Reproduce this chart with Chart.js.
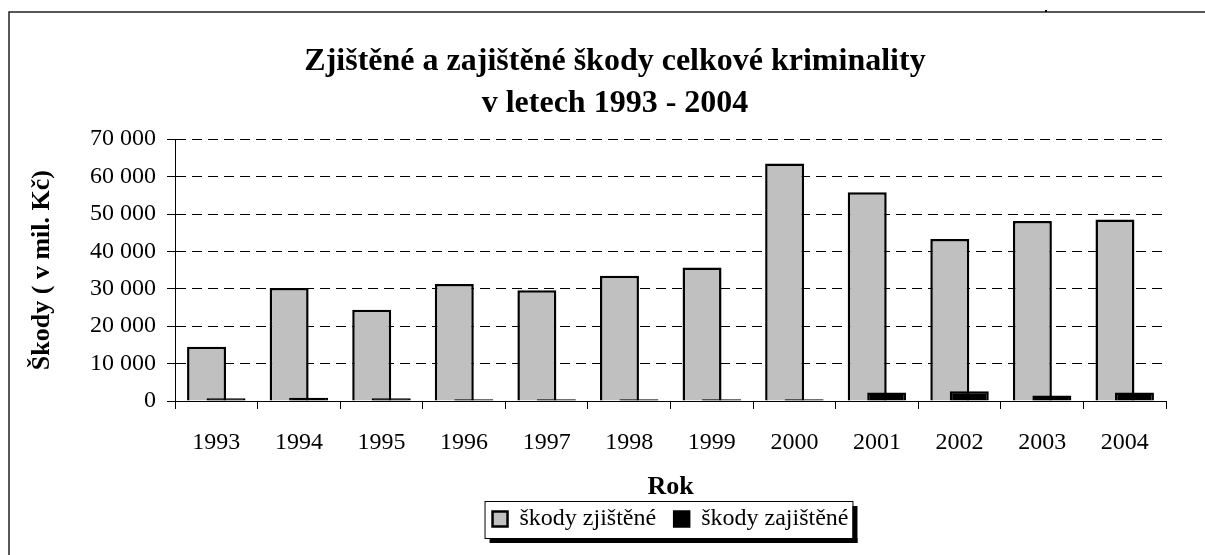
<!DOCTYPE html>
<html>
<head>
<meta charset="utf-8">
<script src="https://cdn.jsdelivr.net/npm/chart.js@4.4.1/dist/chart.umd.min.js"></script>
<style>
  html, body { margin: 0; padding: 0; background: #fff; }
  #wrap { width: 1205px; height: 555px; position: relative; }
</style>
</head>
<body>
<div id="wrap"><canvas id="mycanvas"></canvas></div>
<script>
var years = ['1993', '1994', '1995', '1996', '1997', '1998', '1999', '2000', '2001', '2002', '2003', '2004'];
var skodyZjistene = [14500, 30200, 24400, 31300, 29600, 33500, 35700, 63500, 55800, 43300, 48100, 48500];
var skodyZajistene = [750, 900, 750, 450, 450, 450, 450, 450, 2250, 2600, 1450, 2250];
var yTicks = [0, 10000, 20000, 30000, 40000, 50000, 60000, 70000];

Chart.defaults.font.family = "'Liberation Serif', 'Times New Roman', serif";
Chart.defaults.color = '#000';

function withSpaces(v) {
    return String(v).replace(/\B(?=(\d{3})+(?!\d))/g, ' ');
}

// outer frame of the chart object
var framePlugin = {
    id: 'frame',
    beforeDraw: function(chart) {
        var ctx = chart.ctx;
        ctx.save();
        ctx.fillStyle = '#fff';
        ctx.fillRect(0, 0, chart.width, chart.height);
        ctx.strokeStyle = '#222';
        ctx.lineWidth = 1.5;
        ctx.beginPath();
        ctx.moveTo(9, chart.height);
        ctx.lineTo(9, 12);
        ctx.lineTo(chart.width, 12);
        ctx.stroke();
        ctx.fillStyle = '#000';
        ctx.fillRect(1045, 10, 2, 2);
        ctx.restore();
    }
};

// second series overlaps the first one, so draw it last (on top)
var overlapPlugin = {
    id: 'overlap',
    beforeDatasetDraw: function(chart, args) {
        if (args.index === 1) return false;
    },
    afterDatasetsDraw: function(chart) {
        var meta = chart.getDatasetMeta(1);
        if (!meta.hidden) meta.controller.draw();
    }
};

// move legend under the plot area and draw its box with shadow
var legendBoxPlugin = {
    id: 'legendBox',
    afterLayout: function(chart) {
        var lg = chart.legend;
        var a = chart.chartArea;
        var shift = (a.left + a.right) / 2 - (lg.left + lg.right) / 2;
        lg.left += shift;
        lg.right += shift;
        lg.top -= 14;
        lg.bottom -= 14;
    },
    afterDraw: function(chart) {
        var hb = chart.legend.legendHitBoxes;
        if (!hb || !hb.length) return;
        var first = hb[0], last = hb[hb.length - 1];
        var x1 = first.left - 8, x2 = last.left + last.width + 4;
        var y1 = first.top - 6, y2 = first.top + first.height + 7;
        var ctx = chart.ctx;
        ctx.save();
        ctx.fillStyle = '#000';
        ctx.fillRect(x1 + 5, y2, x2 - x1, 5);
        ctx.fillRect(x2, y1 + 5, 5, y2 - y1);
        ctx.strokeStyle = '#000';
        ctx.lineWidth = 1;
        ctx.strokeRect(x1 + 0.5, y1 + 0.5, x2 - x1, y2 - y1);
        ctx.restore();
    }
};

var chartdata = {
    labels: years,
    datasets: [
        {
            label: 'škody zjištěné',
            backgroundColor: '#C0C0C0',
            borderColor: '#000',
            borderWidth: 2.5,
            data: skodyZjistene
        },
        {
            label: 'škody zajištěné',
            backgroundColor: '#000',
            borderColor: '#000',
            borderWidth: 2.5,
            data: skodyZajistene
        }
    ]
};

var ctx = document.getElementById('mycanvas');

var barGraph = new Chart(ctx, {
    type: 'bar',
    data: chartdata,
    plugins: [framePlugin, overlapPlugin, legendBoxPlugin],
    options: {
        responsive: true,
        maintainAspectRatio: false,
        animation: false,
        layout: { padding: { left: 25, right: 0, top: 0, bottom: 0 } },
        datasets: {
            bar: { categoryPercentage: 0.472, barPercentage: 2.0 }
        },
        plugins: {
            title: {
                display: true,
                text: ['Zjištěné a zajištěné škody celkové kriminality', 'v letech 1993 - 2004'],
                font: { size: 32, weight: 'bold', lineHeight: 1.3 },
                color: '#000',
                padding: { top: 41, bottom: 15 }
            },
            legend: {
                display: true,
                position: 'bottom',
                labels: {
                    boxWidth: 15,
                    boxHeight: 15,
                    padding: 18,
                    font: { size: 24 },
                    color: '#000'
                }
            },
            tooltip: { enabled: false }
        },
        scales: {
            x: {
                grid: { drawOnChartArea: false, drawTicks: true, tickLength: 8, color: '#000', offset: true },
                border: { display: true, color: '#000', width: 1 },
                ticks: { font: { size: 24 }, padding: 19, maxRotation: 0, color: '#000' },
                title: { display: true, text: 'Rok', font: { size: 26, weight: 'bold' }, padding: { top: 0, bottom: 0 }, color: '#000' },
                afterFit: function(s) { s.height = 102; }
            },
            y: {
                min: 0,
                max: 70000,
                afterBuildTicks: function(s) {
                    s.ticks = yTicks.map(function(v) { return { value: v }; });
                },
                grid: { color: '#000', lineWidth: 1, tickLength: 8, tickColor: '#000', tickBorderDash: [] },
                border: { display: true, color: '#000', width: 1, dash: [10, 6] },
                ticks: {
                    font: { size: 24 },
                    padding: 11,
                    color: '#000',
                    callback: function(v) { return withSpaces(v); }
                },
                title: { display: true, text: 'Škody ( v mil. Kč)', font: { size: 26, weight: 'bold' }, padding: { top: 2, bottom: 0 }, color: '#000' },
                afterFit: function(s) { s.width = 150; }
            },
            yR: {
                type: 'linear',
                position: 'right',
                display: true,
                grid: { display: false },
                border: { display: false },
                ticks: { display: false },
                afterFit: function(s) { s.width = 39; }
            }
        }
    }
});
</script>
</body>
</html>
